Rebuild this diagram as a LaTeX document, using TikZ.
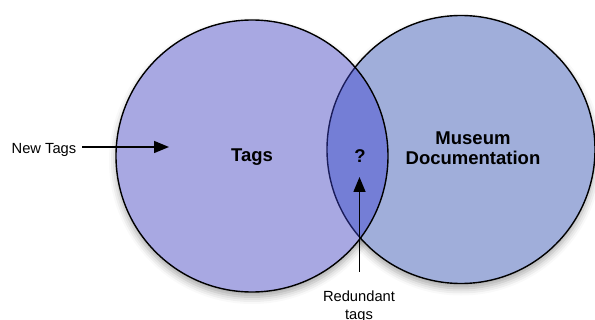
\documentclass[tikz,border=0pt]{standalone}
\usepackage{fontspec}
\setmainfont{Liberation Sans}
\usetikzlibrary{arrows.meta,shadows.blur}

\definecolor{tagfill}{RGB}{168,168,226}
\definecolor{musfill}{RGB}{160,174,218}
\definecolor{lensfill}{RGB}{116,126,214}
\definecolor{lensedge}{RGB}{26,28,90}

\tikzset{
  setdisc/.style={circle, inner sep=0pt},
  setshadow/.style={blur shadow={shadow xshift=0pt, shadow yshift=-5pt,
      shadow blur radius=7pt, shadow opacity=35}},
  rim/.style={line width=1.4pt},
  biglabel/.style={font=\fontsize{18.5}{20.5}\selectfont\bfseries, align=center, inner sep=0pt},
  smalllabel/.style={font=\fontsize{14.7}{18}\selectfont, align=center, inner sep=0pt},
  arr/.style={line width=1.5pt, -{Triangle[length=15pt, width=12pt]}}
}

\begin{document}
\begin{tikzpicture}[x=1pt, y=-1pt]
  \useasboundingbox (0,0) rectangle (595,320);

  % the two sets; their soft shadows go underneath everything
  \node[setdisc, setshadow, fill=musfill, minimum size=268pt] (mus) at (461,149.5) {};
  \node[setdisc, setshadow, fill=tagfill, minimum size=272pt] (tag) at (252,156) {};
  \fill[musfill] (mus.center) circle[radius=134pt];
  \fill[tagfill] (tag.center) circle[radius=136pt];

  % overlap of the two sets
  \begin{scope}
    \clip (tag.center) circle[radius=136pt];
    \fill[lensfill] (mus.center) circle[radius=134pt];
    \draw[rim, lensedge] (mus.center) circle[radius=134pt];
  \end{scope}

  % outlines
  \draw[rim] (tag.center) circle[radius=136pt];
  \begin{scope}[even odd rule]
    \clip (0,-10) rectangle (610,330) (tag.center) circle[radius=136pt];
    \draw[rim] (mus.center) circle[radius=134pt];
  \end{scope}

  % labels inside the sets
  \node[biglabel] (tagtxt) at (252,157) {Tags};
  \node[biglabel] (mustxt) at (473,148) {Museum\\Documentation};
  \node[biglabel, anchor=base] (q) at (360,162.5) {?};

  % outside labels and their arrows
  \node[smalllabel, anchor=base west] (newtags) at (11.5,153.5) {New Tags};
  \coordinate (newtip) at (169,147);
  \draw[arr] ([xshift=6pt]newtags.east |- newtip) -- (newtip);

  \node[smalllabel, anchor=north] (redund) at (359,291) {Redundant\\tags};
  \coordinate (redstart) at (359.5,272);
  \coordinate (qtip) at (359.5,177);
  \draw[arr] (redstart) -- (qtip);
\end{tikzpicture}
\end{document}
